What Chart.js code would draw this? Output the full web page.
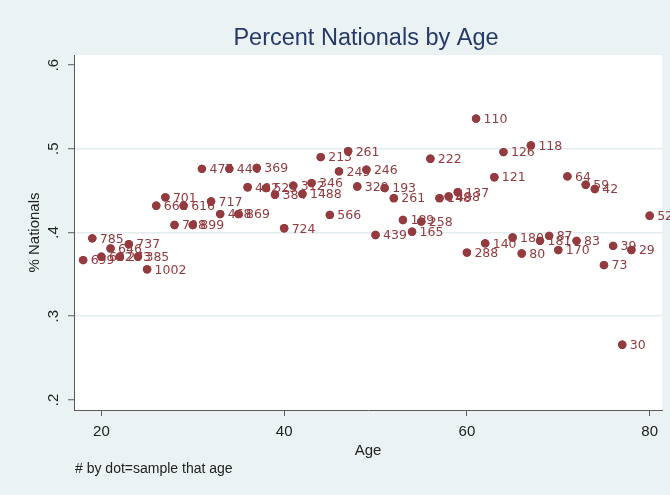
<!DOCTYPE html>
<html>
<head>
<meta charset="utf-8">
<script src="https://cdn.jsdelivr.net/npm/chart.js@4.4.1/dist/chart.umd.min.js"></script>
<style>
  html, body { margin: 0; padding: 0; background: #EAF2F3; }
  #wrap { width: 670px; height: 495px; }
</style>
</head>
<body>
<div id="wrap"><canvas id="chart" width="670" height="495"></canvas></div>
<script>
// age of respondent
const ages = [18, 19, 20, 21, 22, 23, 24, 25, 26, 27, 28, 29, 30, 31, 32, 33, 34, 35, 36, 37,
  38, 39, 40, 41, 42, 43, 44, 45, 46, 47, 48, 49, 50, 51, 52, 53, 54, 55, 56, 57,
  58, 59, 60, 61, 62, 63, 64, 65, 66, 67, 68, 69, 70, 71, 72, 73, 74, 75, 76, 77,
  78, 80];

// share of Nationals voters at that age
const shares = [0.367, 0.393, 0.371, 0.381, 0.371, 0.386, 0.371, 0.356, 0.432, 0.442, 0.409, 0.432, 0.409, 0.476, 0.437, 0.422, 0.476, 0.422, 0.454, 0.477,
  0.453, 0.445, 0.405, 0.456, 0.446, 0.459, 0.490, 0.421, 0.473, 0.497, 0.455, 0.475, 0.397, 0.453, 0.441, 0.415, 0.401, 0.413, 0.488, 0.441,
  0.443, 0.448, 0.376, 0.536, 0.387, 0.466, 0.496, 0.394, 0.375, 0.504, 0.390, 0.396, 0.379, 0.467, 0.390, 0.457, 0.452, 0.361, 0.384, 0.266,
  0.379, 0.420];

// sample size, printed next to each dot
const sampleSizes = ['699', '785', '682', '646', '273', '737', '385', '1002', '661', '701', '798', '616', '899', '477', '717', '468', '446', '869', '482', '369',
  '523', '384', '724', '312', '1488', '346', '213', '566', '249', '261', '329', '246', '439', '193', '261', '189', '165', '258', '222', '148',
  '488', '137', '288', '110', '140', '121', '126', '180', '80', '118', '181', '87', '170', '64', '83', '59', '42', '73', '39', '30',
  '29', '52'];

const xTicks = [20, 40, 60, 80];
const yTicks = [0.2, 0.3, 0.4, 0.5, 0.6];
const yTickLabels = ['.2', '.3', '.4', '.5', '.6'];

const SANS = "'Liberation Sans', Arial, sans-serif";
const DOT = '#943B3F';
const AXIS = '#5a5a5a';

// marker labels, drawn dot by dot like Stata does (later dots cover earlier labels)
const markerLabels = {
  id: 'markerLabels',
  afterDatasetsDraw(chart) {
    const ctx = chart.ctx;
    const meta = chart.getDatasetMeta(0);
    ctx.save();
    ctx.font = "12.5px 'DejaVu Sans', Verdana, sans-serif";
    ctx.fillStyle = '#A04A4F';
    ctx.textAlign = 'left';
    ctx.textBaseline = 'middle';
    meta.data.forEach((pt, i) => {
      pt.draw(ctx);
      ctx.fillText(sampleSizes[i], pt.x + 7.5, pt.y + 1);
    });
    ctx.restore();
  }
};

// white plot region, title, rotated y tick labels and the note
const decorations = {
  id: 'decorations',
  beforeDraw(chart) {
    const { ctx, chartArea } = chart;
    ctx.save();
    ctx.fillStyle = '#EAF2F3';
    ctx.fillRect(0, 0, chart.width, chart.height);
    ctx.fillStyle = '#ffffff';
    ctx.fillRect(chartArea.left, chartArea.top, chartArea.right - chartArea.left, chartArea.bottom - chartArea.top);
    ctx.restore();
  },
  afterDraw(chart) {
    const { ctx, chartArea } = chart;
    const y = chart.scales.y;
    ctx.save();
    ctx.fillStyle = '#26396A';
    ctx.font = '23.5px ' + SANS;
    ctx.textAlign = 'center';
    ctx.textBaseline = 'alphabetic';
    ctx.fillText('Percent Nationals by Age', (chartArea.left + chartArea.right) / 2 - 2, 45);

    ctx.fillStyle = '#222';
    ctx.font = '15px ' + SANS;
    ctx.textBaseline = 'middle';
    yTicks.forEach((v, i) => {
      ctx.save();
      ctx.translate(54, y.getPixelForValue(v));
      ctx.rotate(-Math.PI / 2);
      ctx.fillText(yTickLabels[i], 0, 0);
      ctx.restore();
    });

    ctx.font = '14px ' + SANS;
    ctx.textAlign = 'left';
    ctx.textBaseline = 'alphabetic';
    ctx.fillText('# by dot=sample that age', 75, 473);
    ctx.restore();
  }
};

new Chart(document.getElementById('chart'), {
  type: 'scatter',
  data: {
    datasets: [{
      data: ages.map((a, i) => ({ x: a, y: shares[i] })),
      pointRadius: 4.2,
      pointBorderWidth: 0,
      pointBackgroundColor: DOT,
      pointBorderColor: DOT
    }]
  },
  options: {
    responsive: false,
    animation: false,
    events: [],
    layout: { padding: { left: 0, right: 8, top: 55, bottom: 0 } },
    plugins: {
      legend: { display: false },
      tooltip: { enabled: false },
      title: { display: false }
    },
    scales: {
      x: {
        type: 'linear',
        min: 17,
        max: 81.35,
        afterBuildTicks: s => { s.ticks = xTicks.map(v => ({ value: v })); },
        afterFit: s => { s.height = 85; },
        grid: { drawOnChartArea: false, drawTicks: true, tickLength: 6, tickColor: AXIS, tickWidth: 1 },
        border: { display: true, color: AXIS, width: 1 },
        ticks: { color: '#222', font: { family: SANS, size: 15 }, padding: 7, maxRotation: 0, minRotation: 0 },
        title: { display: true, text: 'Age', color: '#222', font: { family: SANS, size: 15 }, padding: { top: 0, bottom: 35 } }
      },
      y: {
        type: 'linear',
        min: 0.188,
        max: 0.612,
        afterBuildTicks: s => { s.ticks = yTicks.map(v => ({ value: v })); },
        afterFit: s => { s.width = 74; },
        grid: {
          color: ctx => (ctx.tick && (Math.abs(ctx.tick.value - 0.2) < 1e-6 || Math.abs(ctx.tick.value - 0.6) < 1e-6)) ? 'rgba(0,0,0,0)' : '#E3ECEF',
          lineWidth: 1.5,
          drawTicks: true,
          tickLength: 6,
          tickColor: AXIS,
          tickWidth: 1
        },
        border: { display: true, color: AXIS, width: 1 },
        ticks: { display: false },
        title: { display: true, text: '% Nationals', color: '#222', font: { family: SANS, size: 15 }, padding: { top: 26, bottom: 0 } }
      }
    }
  },
  plugins: [decorations, markerLabels]
});
</script>
</body>
</html>
